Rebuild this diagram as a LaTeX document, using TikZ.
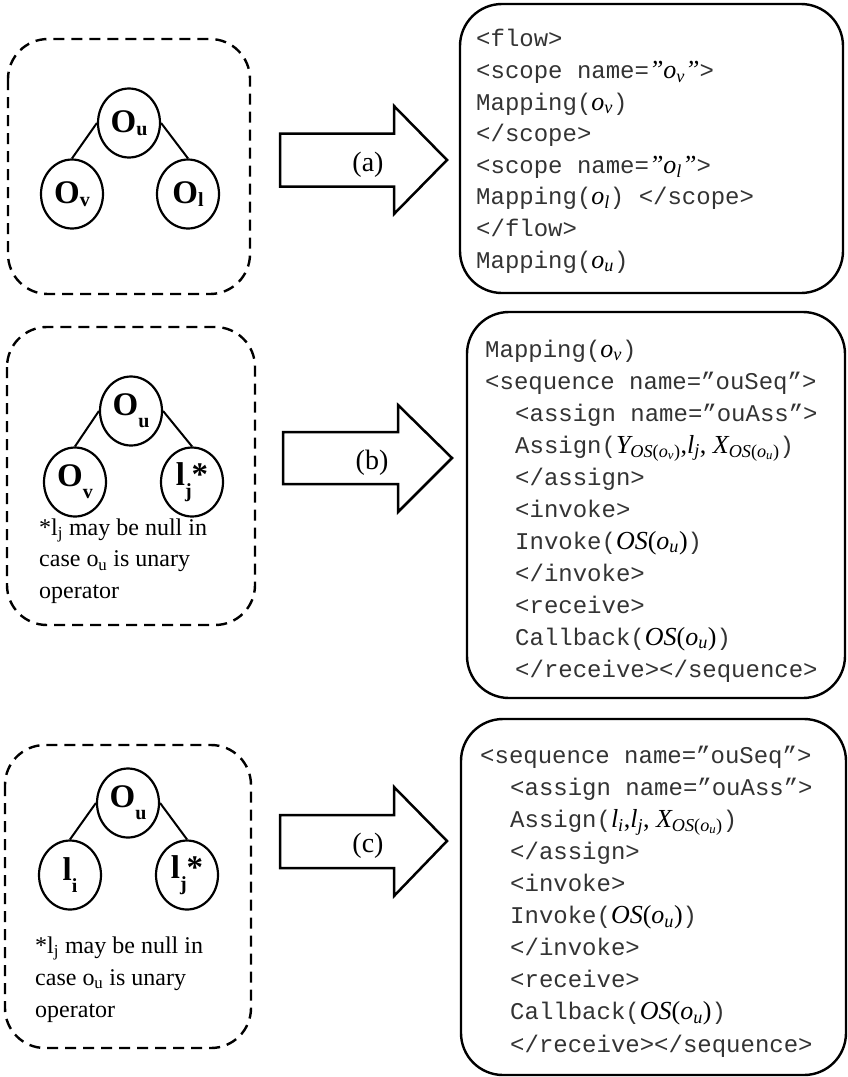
\documentclass[tikz,border=0pt]{standalone}
\usepackage{fontspec}
\setmainfont{Liberation Serif}
\setmonofont{Liberation Mono}
\usetikzlibrary{shapes.geometric}
\newcommand{\sbs}[2]{\raisebox{#1}{\fontsize{20}{20}\selectfont\bfseries #2}}
\newcommand{\mi}[1]{{\rmfamily\itshape\fontsize{26}{32}\selectfont #1}}
\newcommand{\sub}[1]{\textsubscript{#1}}
\newcommand{\up}[1]{\textup{#1}}
\tikzset{
  dbox/.style={draw, line width=2.4pt, dash pattern=on 11pt off 7pt, rounded corners=40pt},
  cbox/.style={draw, line width=2.4pt, rounded corners=42pt},
  tnode/.style={draw, ellipse, line width=2.2pt, minimum width=62pt, minimum height=69pt, inner sep=0pt, font=\fontsize{33}{33}\selectfont\bfseries},
  treeline/.style={line width=2pt},
  bigarrow/.style={draw, line width=2.5pt, line join=miter},
  alabel/.style={font=\fontsize{28}{28}\selectfont, inner sep=0pt},
  code/.style={anchor=base west, align=left, inner sep=0pt, font=\ttfamily\fontsize{24}{32}\selectfont, text=black!80},
  note/.style={anchor=base west, align=left, inner sep=0pt, font=\fontsize{24}{31.5}\selectfont}
}
\begin{document}
\begin{tikzpicture}[x=1pt,y=-1pt]
\useasboundingbox (0,0) rectangle (847,1077);

% ---------- panel (a) ----------
\draw[dbox] (8,39) rectangle (250,294);
\node[tnode] (ua) at (129,123) {O\sbs{-3pt}{u}};
\node[tnode] (va) at (72,194) {O\sbs{-3pt}{v}};
\node[tnode] (la) at (188,194) {O\sbs{-3pt}{l}};
\draw[treeline] (ua.west) -- (va.north);
\draw[treeline] (ua.east) -- (la.north);

\draw[bigarrow] (280,133.5) -- (394,133.5) -- (394,106) -- (447,160) -- (394,214) -- (394,186.5) -- (280,186.5) -- cycle;
\node[alabel] (labA) at (368,165) {(a)};

\draw[cbox] (460,4) rectangle (843,293);
\node[code, font=\ttfamily\fontsize{24}{31.6}\selectfont] (codeA) at (476,268) {<flow>\\
<scope name=\mi{\textcolor{black}{”o\sub{v}”}}>\\
Mapping(\mi{\textcolor{black}{o\sub{v}}})\\
</scope>\\
<scope name=\mi{\textcolor{black}{”o\sub{l}”}}>\\
Mapping(\mi{\textcolor{black}{o\sub{l}}}) </scope>\\
</flow>\\
Mapping(\mi{\textcolor{black}{o\sub{u}}})};

% ---------- panel (b) ----------
\draw[dbox] (7,327) rectangle (255,625);
\node[tnode] (ub) at (131,411) {O\sbs{-12pt}{u}};
\node[tnode] (vb) at (75,482) {O\sbs{-12pt}{v}};
\node[tnode] (lb) at (192,482) {l\sbs{-12pt}{j}*};
\draw[treeline] (ub.west) -- (vb.north);
\draw[treeline] (ub.east) -- (lb.north);
\node[note] (noteB) at (39,598) {*l\textsubscript{j} may be null in\\
case o\textsubscript{u} is unary\\
operator};

\draw[bigarrow] (283,432) -- (398,432) -- (398,405) -- (452,458) -- (398,512) -- (398,484) -- (283,484) -- cycle;
\node[alabel] (labB) at (372,463) {(b)};

\draw[cbox] (467,312) rectangle (845,698);
\node[code] (codeB) at (485,677) {Mapping(\mi{\textcolor{black}{o\sub{v}}})\\
<sequence name=”ouSeq”>\\
\hspace*{30pt}<assign name=”ouAss”>\\
\hspace*{30pt}Assign(\mi{\textcolor{black}{Y\sub{OS\up{(}o\sub{v}\up{)}}\up{,}l\sub{j}\up{,} X\sub{OS\up{(}o\sub{u}\up{)}}}})\\
\hspace*{30pt}</assign>\\
\hspace*{30pt}<invoke>\\
\hspace*{30pt}Invoke(\mi{\textcolor{black}{OS\up{(}o\sub{u}\up{)}}})\\
\hspace*{30pt}</invoke>\\
\hspace*{30pt}<receive>\\
\hspace*{30pt}Callback(\mi{\textcolor{black}{OS\up{(}o\sub{u}\up{)}}})\\
\hspace*{30pt}</receive></sequence>};

% ---------- panel (c) ----------
\draw[dbox] (5,745) rectangle (251,1048);
\node[tnode] (uc) at (128,803) {O\sbs{-12pt}{u}};
\node[tnode] (ic) at (70,875) {l\sbs{-12pt}{i}};
\node[tnode] (jc) at (187,875) {l\sbs{-12pt}{j}*};
\draw[treeline] (uc.west) -- (ic.north);
\draw[treeline] (uc.east) -- (jc.north);
\node[note, font=\fontsize{24}{32}\selectfont] (noteC) at (35,1017) {*l\textsubscript{j} may be null in\\
case o\textsubscript{u} is unary\\
operator};

\draw[bigarrow] (280,815) -- (394,815) -- (394,787) -- (447,841) -- (394,896) -- (394,868) -- (280,868) -- cycle;
\node[alabel] (labC) at (368,846) {(c)};

\draw[cbox] (461,719) rectangle (846,1075);
\node[code, font=\ttfamily\fontsize{24}{32.1}\selectfont] (codeC) at (480,1052) {<sequence name=”ouSeq”>\\
\hspace*{30pt}<assign name=”ouAss”>\\
\hspace*{30pt}Assign(\mi{\textcolor{black}{l\sub{i}\up{,}l\sub{j}\up{,} X\sub{OS\up{(}o\sub{u}\up{)}}}})\\
\hspace*{30pt}</assign>\\
\hspace*{30pt}<invoke>\\
\hspace*{30pt}Invoke(\mi{\textcolor{black}{OS\up{(}o\sub{u}\up{)}}})\\
\hspace*{30pt}</invoke>\\
\hspace*{30pt}<receive>\\
\hspace*{30pt}Callback(\mi{\textcolor{black}{OS\up{(}o\sub{u}\up{)}}})\\
\hspace*{30pt}</receive></sequence>};
\end{tikzpicture}
\end{document}
